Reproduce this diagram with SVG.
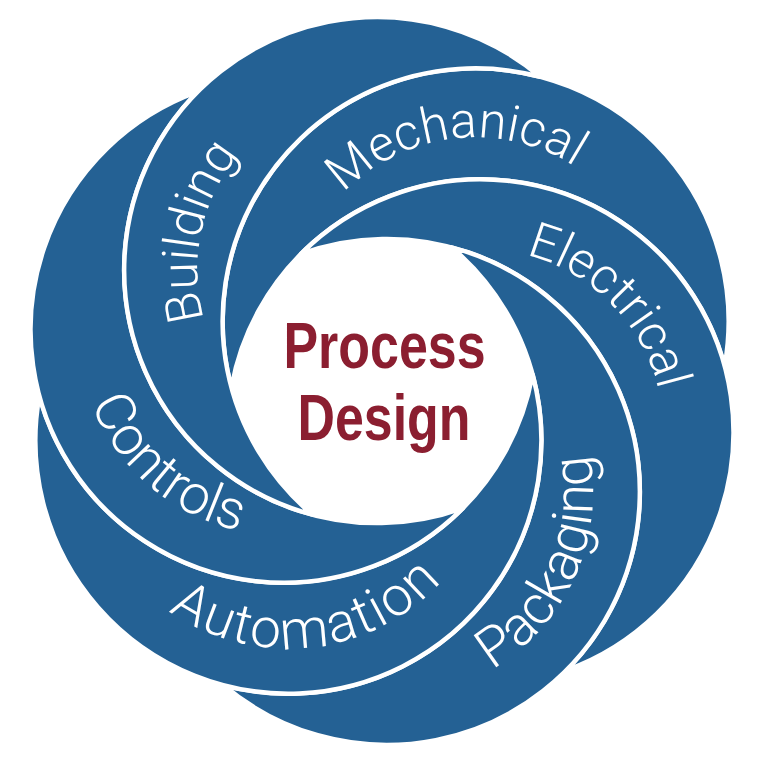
<svg xmlns="http://www.w3.org/2000/svg" width="768" height="768" viewBox="0 0 768 768">
<style>
.blade{fill:#246194;stroke:#ffffff;stroke-width:4.5;stroke-linejoin:round}
.lbl{fill:#ffffff;font-family:Roboto,'Open Sans','Liberation Sans',sans-serif;font-weight:300;font-size:50px}
.lbl2{fill:#ffffff;font-family:Roboto,'Open Sans','Liberation Sans',sans-serif;font-weight:300;font-size:55px}
.core{fill:#8b1e30;font-family:'Liberation Sans',Arial,sans-serif;font-weight:bold;font-size:64px}
</style>
<defs>
<path id="pM" d="M 291.9 310.5 A 184 184 0 0 1 651.9 268.8"/>
<path id="pE" d="M 376.8 281.4 A 183 183 0 0 1 629.5 538.5"/>
<path id="pB" d="M 309.8 437.0 A 180 180 0 0 1 383.5 90.2"/>
<path id="pC" d="M 106.4 224.6 A 206 206 0 0 0 414.0 489.1"/>
<path id="pA" d="M 88.9 499.3 A 208 208 0 0 0 496.0 453.7"/>
<path id="pP" d="M 335.6 691.5 A 206 206 0 0 0 503.2 321.9"/>
</defs>
<rect width="768" height="768" fill="#ffffff"/>
<g id="connectors"></g>
<g id="mechanical">
<path class="blade" d="M 724.64 366.04 A 253 253 0 1 0 231.44 387.57 A 253 253 0 0 1 724.64 366.04 Z"/>
<text class="lbl"><textPath href="#pM" startOffset="50%" text-anchor="middle">Mechanical</textPath></text>
</g>
<g id="electrical">
<path class="blade" d="M 566.28 670.26 A 253 253 0 1 0 301.03 253.90 A 253 253 0 0 1 566.28 670.26 Z"/>
<text class="lbl"><textPath href="#pE" startOffset="50%" text-anchor="middle">Electrical</textPath></text>
</g>
<g id="packaging">
<path class="blade" d="M 223.63 685.22 A 253 253 0 1 0 451.59 247.33 A 253 253 0 0 1 223.63 685.22 Z"/>
<text class="lbl2"><textPath href="#pP" startOffset="50%" text-anchor="middle">Packaging</textPath></text>
</g>
<g id="automation">
<path class="blade" d="M 39.36 395.96 A 253 253 0 1 0 532.56 374.43 A 253 253 0 0 1 39.36 395.96 Z"/>
<text class="lbl2" letter-spacing="2"><textPath href="#pA" startOffset="50%" text-anchor="middle">Automation</textPath></text>
</g>
<g id="controls">
<path class="blade" d="M 197.72 91.74 A 253 253 0 1 0 462.97 508.10 A 253 253 0 0 1 197.72 91.74 Z"/>
<text class="lbl2"><textPath href="#pC" startOffset="50%" text-anchor="middle">Controls</textPath></text>
</g>
<g id="building">
<path class="blade" d="M 540.37 76.78 A 253 253 0 1 0 312.41 514.67 A 253 253 0 0 1 540.37 76.78 Z"/>
<text class="lbl"><textPath href="#pB" startOffset="50%" text-anchor="middle">Building</textPath></text>
</g>
<g id="process-design">
<text class="core" x="384.5" y="368" text-anchor="middle" textLength="202" lengthAdjust="spacingAndGlyphs">Process</text>
<text class="core" x="384" y="440" text-anchor="middle" textLength="173" lengthAdjust="spacingAndGlyphs">Design</text>
</g>
</svg>
